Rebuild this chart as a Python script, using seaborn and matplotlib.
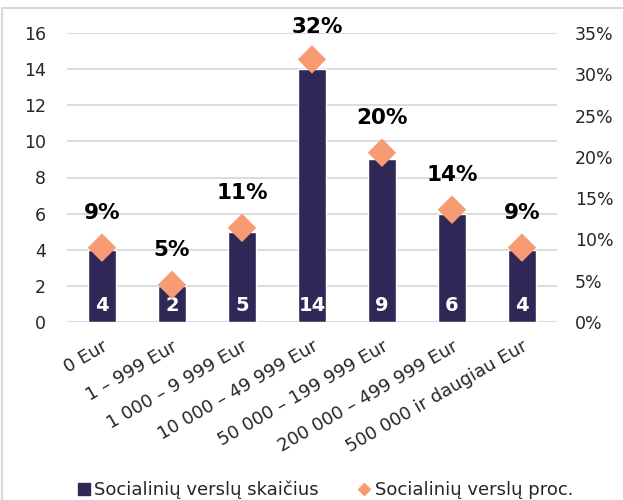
import numpy as np
import pandas as pd
import matplotlib
matplotlib.use("Agg")
import matplotlib.pyplot as plt
import seaborn as sns
from matplotlib.lines import Line2D
from matplotlib.ticker import PercentFormatter

# data
categories = ["0 Eur", "1 – 999 Eur", "1 000 – 9 999 Eur", "10 000 – 49 999 Eur",
              "50 000 – 199 999 Eur", "200 000 – 499 999 Eur", "500 000 ir daugiau Eur"]
counts = [4, 2, 5, 14, 9, 6, 4]
shares = [0.09, 0.045, 0.114, 0.318, 0.205, 0.136, 0.09]
share_labels = ["9%", "5%", "11%", "32%", "20%", "14%", "9%"]

bar_col = "#2f2856"
dia_col = "#f79b72"
txt_col = "#262626"

sns.set_style("white")
plt.rcParams['font.family'] = ['DejaVu Sans']

df = pd.DataFrame({"cat": categories, "cnt": counts, "pct": shares})

fig = plt.figure(figsize=(6.23, 5), dpi=100)
ax = fig.add_axes([0.1075, 0.356, 0.7865, 0.578])

sns.barplot(data=df, x="cat", y="cnt", color=bar_col, width=0.41, saturation=1,
            ax=ax, zorder=2)
ax.set_ylim(0, 16)
ax.set_yticks(range(0, 17, 2))
ax.set_xlim(-0.5, 6.5)
ax.grid(axis="y", color="#d9d9d9", linewidth=1.3, zorder=0)
ax.set_axisbelow(True)
for s in ax.spines.values():
    s.set_visible(False)
ax.set_xlabel("")
ax.set_ylabel("")
ax.tick_params(axis="y", length=0, pad=15, labelsize=12.5, labelcolor=txt_col)
ax.tick_params(axis="x", length=0, pad=11, labelsize=13, labelcolor=txt_col)
ax.set_xticks(range(len(categories)))
ax.set_xticklabels(categories, rotation=30, ha="right", rotation_mode="anchor")

# count labels inside bars
for i, c in enumerate(counts):
    ax.annotate(str(c), (i, 0), xytext=(0, 12), textcoords="offset points",
                ha="center", va="center", color="white", fontsize=14,
                fontweight="bold", zorder=4)

ax2 = ax.twinx()
sns.scatterplot(x=list(range(len(categories))), y=shares, marker="D", s=210,
                color=dia_col, edgecolor="none", ax=ax2, zorder=5)
ax2.set_ylim(0, 0.35)
ax2.set_yticks(np.arange(0, 0.351, 0.05))
ax2.yaxis.set_major_formatter(PercentFormatter(1.0, decimals=0))
ax2.set_xlim(-0.5, 6.5)
for s in ax2.spines.values():
    s.set_visible(False)
ax2.tick_params(axis="y", length=0, pad=13, labelsize=12.5, labelcolor=txt_col)
ax2.set_ylabel("")

for i, (v, lab) in enumerate(zip(shares, share_labels)):
    if i == 3:
        ax2.annotate(lab, (i, v), xytext=(4, 23), textcoords="offset points",
                     ha="center", va="center", fontsize=15.5, fontweight="bold",
                     color="black",
                     arrowprops=dict(arrowstyle="-", color="#a6a6a6", lw=1.2,
                                     shrinkA=9, shrinkB=1))
    else:
        ax2.annotate(lab, (i, v), xytext=(0, 25), textcoords="offset points",
                     ha="center", va="center", fontsize=15.5, fontweight="bold",
                     color="black")

# legend
handles = [Line2D([], [], marker="s", linestyle="none", color=bar_col, markersize=9),
           Line2D([], [], marker="D", linestyle="none", color=dia_col, markersize=6)]
fig.legend(handles, ["Socialinių verslų skaičius", "Socialinių verslų proc."],
           loc="center", bbox_to_anchor=(0.52, 0.02), ncol=2, frameon=False,
           fontsize=13, handletextpad=0.1, columnspacing=2.0,
           handlelength=1.0, labelcolor=txt_col)

# chart frame (top and left edges visible)
fig.add_artist(Line2D([0.004, 1.0], [0.984, 0.984], color="#d9d9d9", lw=1.5))
fig.add_artist(Line2D([0.004, 0.004], [0.0, 0.984], color="#d9d9d9", lw=1.5))

fig.savefig("out.png", dpi=100)
